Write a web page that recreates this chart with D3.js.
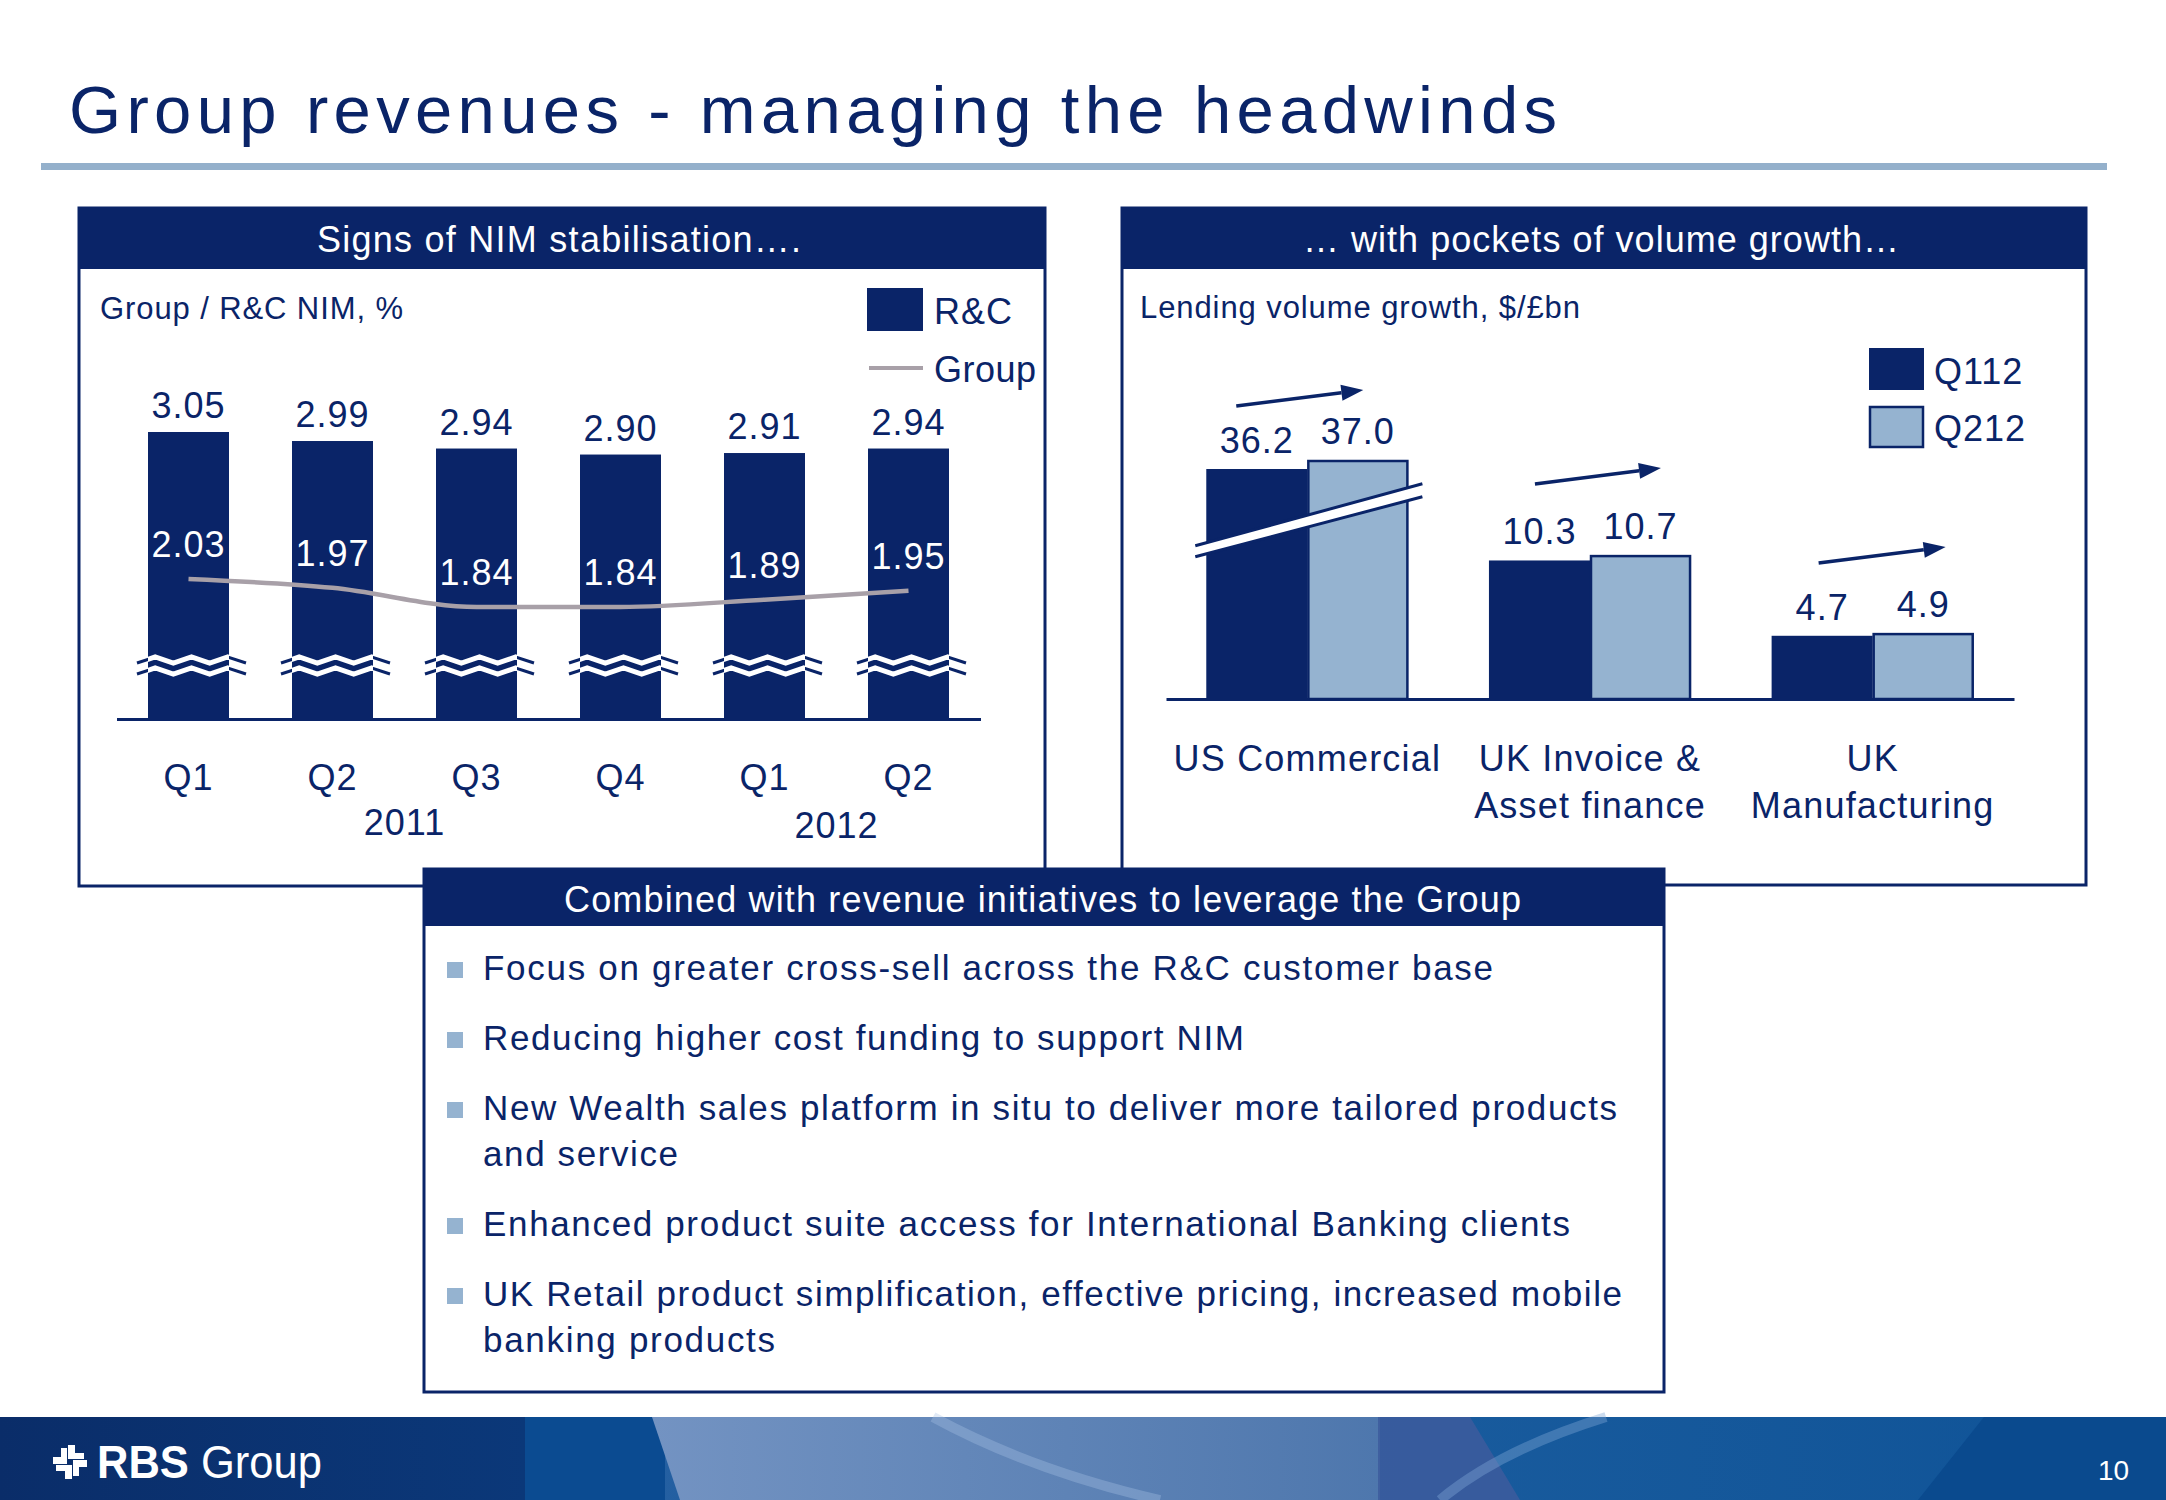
<!DOCTYPE html>
<html><head><meta charset="utf-8">
<script src="https://cdn.jsdelivr.net/npm/d3@7"></script>
<style>
html,body{margin:0;padding:0;background:#fff;}
svg{display:block;font-family:"Liberation Sans",Arial,Helvetica,sans-serif;}
</style></head><body>
<svg id="chart" width="2166" height="1500"></svg>
<script>
// ---------------- data ----------------
const quarterLabels = ["Q1","Q2","Q3","Q4","Q1","Q2"];
const quarterYears  = ["2011","2011","2011","2011","2012","2012"];
const rcNim    = [3.05, 2.99, 2.94, 2.90, 2.91, 2.94];
const groupNim = [2.03, 1.97, 1.84, 1.84, 1.89, 1.95];

const lendingCategories = ["US Commercial", "UK Invoice & Asset finance", "UK Manufacturing"];
const lendingCategoryLines = [["US Commercial"], ["UK Invoice &", "Asset finance"], ["UK", "Manufacturing"]];
const lendingSeries = ["Q112", "Q212"];
const lendingQ112 = [36.2, 10.3, 4.7];
const lendingQ212 = [37.0, 10.7, 4.9];

const bulletLines = [
  ["Focus on greater cross-sell across the R&C customer base"],
  ["Reducing higher cost funding to support NIM"],
  ["New Wealth sales platform in situ to deliver more tailored products", "and service"],
  ["Enhanced product suite access for International Banking clients"],
  ["UK Retail product simplification, effective pricing, increased mobile", "banking products"]
];

// ---------------- styles ----------------
const navy = "#0A2468", lightBlue = "#95B3D0", grey = "#A8A0A8";
const svg = d3.select("#chart");
const defs = svg.append("defs");

function txt(g, x, y, s, size, o = {}) {
  const t = g.append("text").attr("x", x).attr("y", y).text(s)
    .attr("font-size", size).attr("fill", o.fill || navy)
    .attr("text-anchor", o.anchor || "start");
  if (o.len) t.attr("textLength", o.len).attr("lengthAdjust", o.adjust || "spacing");
  if (o.ls != null) t.attr("letter-spacing", o.ls);
  if (o.weight) t.attr("font-weight", o.weight);
  return t;
}

// ---------------- title ----------------
txt(svg, 69, 133, "Group revenues - managing the headwinds", 67, {len: 1488});
svg.append("rect").attr("x", 41).attr("y", 163).attr("width", 2066).attr("height", 7).attr("fill", "#94B0CB");

// ---------------- panels ----------------
function panel(x0, y0, x1, y1, hBottom, title, tx, tw, tb) {
  const g = svg.append("g");
  g.append("rect").attr("x", x0).attr("y", y0).attr("width", x1 - x0).attr("height", y1 - y0)
    .attr("fill", "#fff").attr("stroke", navy).attr("stroke-width", 3);
  g.append("rect").attr("x", x0).attr("y", y0).attr("width", x1 - x0).attr("height", hBottom - y0)
    .attr("fill", navy);
  txt(g, tx, tb, title, 36, {fill: "#fff", len: tw});
  return g;
}
const leftP  = panel(79, 208, 1045, 886, 269, "Signs of NIM stabilisation\u2026.", 317, 484, 252);
const rightP = panel(1122, 208, 2086, 885, 269, "\u2026 with pockets of volume growth\u2026", 1303, 596, 252);

// ---------------- left chart: NIM ----------------
txt(leftP, 100, 319, "Group / R&C NIM, %", 31, {len: 303});

const xN = d3.scaleBand().domain(d3.range(rcNim.length)).range([116.5, 980.5])
  .paddingInner(0.4375).paddingOuter(0.21875);
const yN = d3.scaleLinear().domain([1.14, 3.05]).range([719, 432]);
const yG = d3.scaleLinear().domain([1.84, 2.03]).range([607, 579]);
const bwN = xN.bandwidth();

leftP.selectAll("rect.bar").data(rcNim).join("rect").attr("class", "bar")
  .attr("x", (d, i) => xN(i)).attr("y", d => yN(d))
  .attr("width", bwN).attr("height", d => yN.range()[0] - yN(d)).attr("fill", navy);

// axis break marks
const breakG = leftP.append("g");
rcNim.forEach((d, i) => {
  const x0 = xN(i) - 11, w = 109;
  const id = "clipN" + i;
  defs.append("clipPath").attr("id", id).append("rect")
    .attr("x", xN(i)).attr("y", 600).attr("width", bwN).attr("height", 100);
  [660, 671].forEach(by => {
    const pts = d3.range(7).map(k => [x0 + k * w / 6, by + (k % 2 === 0 ? 3 : -3)]);
    const line = d3.line()(pts);
    breakG.append("path").attr("d", line).attr("fill", "none").attr("stroke", navy).attr("stroke-width", 3);
    breakG.append("path").attr("d", line).attr("fill", "none").attr("stroke", "#fff")
      .attr("stroke-width", 5).attr("clip-path", `url(#${id})`);
  });
});

// R&C value labels
leftP.selectAll("text.rc").data(rcNim).join("text").attr("class", "rc")
  .attr("x", (d, i) => xN(i) + bwN / 2).attr("y", d => yN(d) - 14)
  .attr("text-anchor", "middle").attr("font-size", 36).attr("letter-spacing", 1)
  .attr("fill", navy).text(d => d.toFixed(2));

// Group line
const cx = i => xN(i) + bwN / 2;
leftP.append("path").datum(groupNim)
  .attr("d", d3.line().x((d, i) => cx(i)).y(d => yG(d)).curve(d3.curveMonotoneX))
  .attr("fill", "none").attr("stroke", grey).attr("stroke-width", 4.5);
leftP.selectAll("text.grp").data(groupNim).join("text").attr("class", "grp")
  .attr("x", (d, i) => cx(i)).attr("y", d => yG(d) - 22)
  .attr("text-anchor", "middle").attr("font-size", 36).attr("letter-spacing", 1)
  .attr("fill", "#fff").text(d => d.toFixed(2));

// x axis
const axN = leftP.append("g").attr("transform", "translate(0,719)")
  .call(d3.axisBottom(xN).tickSize(0).tickSizeOuter(0).tickPadding(45.4).tickFormat(i => quarterLabels[i]));
axN.select(".domain").attr("stroke", navy).attr("stroke-width", 3);
axN.selectAll("text").attr("font-size", 36).attr("fill", navy).attr("letter-spacing", 1)
  .attr("font-family", "'Liberation Sans',Arial,sans-serif");
// years
const years = d3.groups(d3.range(quarterYears.length), i => quarterYears[i]);
const yearBase = {"2011": 835, "2012": 838};
years.forEach(([yr, idx]) => {
  const c = d3.mean(idx, i => cx(i));
  txt(leftP, c, yearBase[yr], yr, 36, {anchor: "middle", ls: 1});
});

// legend
leftP.append("rect").attr("x", 867).attr("y", 288).attr("width", 56).attr("height", 43).attr("fill", navy);
txt(leftP, 934, 324, "R&C", 36, {ls: 1});
leftP.append("line").attr("x1", 869).attr("x2", 923).attr("y1", 368).attr("y2", 368)
  .attr("stroke", grey).attr("stroke-width", 4);
txt(leftP, 934, 382, "Group", 36, {ls: 0.5});

// ---------------- right chart: lending ----------------
txt(rightP, 1140, 318, "Lending volume growth, $/\u00a3bn", 31, {len: 440});

const xL = d3.scaleBand().domain(d3.range(lendingCategories.length)).range([1166, 2014])
  .paddingInner(0.285).paddingOuter(0.1425);
const xS = d3.scaleBand().domain(lendingSeries).range([0, xL.bandwidth()]);
const yL = d3.scaleLinear().domain([0, 11, 35, 40]).range([699, 551.05, 482.5, 426.25]);
const seriesVals = {Q112: lendingQ112, Q212: lendingQ212};
const seriesFill = {Q112: navy, Q212: lightBlue};

const barData = [];
lendingCategories.forEach((c, i) => lendingSeries.forEach(s => barData.push({i, s, v: seriesVals[s][i]})));

rightP.selectAll("rect.lb").data(barData).join("rect").attr("class", "lb")
  .attr("x", d => xL(d.i) + xS(d.s) + (d.s === "Q212" ? 1 : 0))
  .attr("y", d => yL(d.v) + (d.s === "Q212" ? 1 : 0))
  .attr("width", d => xS.bandwidth() - (d.s === "Q212" ? 2 : 0))
  .attr("height", d => yL(0) - yL(d.v) - (d.s === "Q212" ? 1 : 0))
  .attr("fill", d => seriesFill[d.s])
  .attr("stroke", d => d.s === "Q212" ? navy : "none").attr("stroke-width", 2.5);

// break stripe on the US Commercial bars
{
  const bs = xL(0), be = xL(0) + xL.bandwidth();
  const xa = bs - 11, xb = be + 14;
  const ym = yL(23);
  const ya = ym + 29, yb = ym - 33;
  const gap = 11;
  rightP.append("path")
    .attr("d", `M${xa},${ya}L${xb},${yb}L${xb},${yb + gap + 2}L${xa},${ya + gap}Z`)
    .attr("fill", "#fff");
  rightP.append("line").attr("x1", xa).attr("y1", ya).attr("x2", xb).attr("y2", yb)
    .attr("stroke", navy).attr("stroke-width", 3);
  rightP.append("line").attr("x1", xa).attr("y1", ya + gap).attr("x2", xb).attr("y2", yb + gap + 2)
    .attr("stroke", navy).attr("stroke-width", 3);
}

// value labels
rightP.selectAll("text.lv").data(barData).join("text").attr("class", "lv")
  .attr("x", d => xL(d.i) + xS(d.s) + xS.bandwidth() / 2)
  .attr("y", d => yL(d.v) - 16)
  .attr("text-anchor", "middle").attr("font-size", 36).attr("letter-spacing", 1)
  .attr("fill", navy).text(d => d.v.toFixed(1));

// growth arrows (annotation layout)
const arrowLayout = [{dx0: 30, dx1: 157, dy: -54}, {dx0: 46, dx1: 172, dy: -71}, {dx0: 47, dx1: 174, dy: -70}];
arrowLayout.forEach((a, i) => {
  const x0 = xL(i) + a.dx0, x1 = xL(i) + a.dx1;
  const y0 = yL(lendingQ212[i]) + a.dy, y1 = y0 - 16;
  const ang = Math.atan2(y1 - y0, x1 - x0);
  const hl = 22, hw = 8;
  const bx = x1 - hl * Math.cos(ang), by = y1 - hl * Math.sin(ang);
  rightP.append("line").attr("x1", x0).attr("y1", y0).attr("x2", bx).attr("y2", by)
    .attr("stroke", navy).attr("stroke-width", 3.5);
  const px = -Math.sin(ang) * hw, py = Math.cos(ang) * hw;
  rightP.append("path").attr("d", `M${x1},${y1}L${bx + px},${by + py}L${bx - px},${by - py}Z`).attr("fill", navy);
});

// axis
const axL = rightP.append("g").attr("transform", "translate(0,699)")
  .call(d3.axisBottom(xL).tickSize(0).tickSizeOuter(0).tickPadding(46.4).tickFormat(() => ""));
axL.select(".domain").attr("stroke", navy).attr("stroke-width", 3);
axL.selectAll(".tick text").each(function(i) {
  const t = d3.select(this).attr("font-size", 36).attr("fill", navy).attr("letter-spacing", 1.2)
    .attr("font-family", "'Liberation Sans',Arial,sans-serif");
  lendingCategoryLines[i].forEach((ln, k) => {
    t.append("tspan").attr("x", 0).attr("dy", k === 0 ? "0.71em" : 47).text(ln);
  });
  t.attr("dy", null);
});

// legend
rightP.append("rect").attr("x", 1869).attr("y", 348).attr("width", 55).attr("height", 42).attr("fill", navy);
rightP.append("rect").attr("x", 1870).attr("y", 407).attr("width", 53).attr("height", 40)
  .attr("fill", lightBlue).attr("stroke", navy).attr("stroke-width", 2.5);
txt(rightP, 1934, 384, lendingSeries[0], 36, {ls: 1});
txt(rightP, 1934, 441, lendingSeries[1], 36, {ls: 1});

// ---------------- bottom box ----------------
const botP = panel(424, 869, 1664, 1392, 926, "Combined with revenue initiatives to leverage the Group", 564, 957, 912);
const bulletWidths = [[1010], [761], [1134, 195], [1087], [1139, 292]];
let yb = 980;
bulletLines.forEach((lines, bi) => {
  botP.append("rect").attr("x", 447).attr("y", yb - 18).attr("width", 16).attr("height", 16).attr("fill", lightBlue);
  lines.forEach((ln, k) => {
    txt(botP, 483, yb, ln, 35, {len: bulletWidths[bi][k]});
    if (k < lines.length - 1) yb += 46;
  });
  yb += 70;
});

// ---------------- footer ----------------
const fg = svg.append("g");
const g1 = defs.append("linearGradient").attr("id", "fL");
g1.append("stop").attr("offset", 0).attr("stop-color", "#0A2D69");
g1.append("stop").attr("offset", 1).attr("stop-color", "#0B3879");
const g2 = defs.append("linearGradient").attr("id", "fM");
g2.append("stop").attr("offset", 0).attr("stop-color", "#7393C2");
g2.append("stop").attr("offset", 1).attr("stop-color", "#4E77AD");
const g3 = defs.append("linearGradient").attr("id", "fR");
g3.append("stop").attr("offset", 0).attr("stop-color", "#2E63A5");
g3.append("stop").attr("offset", 0.6).attr("stop-color", "#1A5C9E");
g3.append("stop").attr("offset", 1).attr("stop-color", "#0F5397");
fg.append("rect").attr("x", 0).attr("y", 1417).attr("width", 2166).attr("height", 83).attr("fill", "url(#fR)");
fg.append("rect").attr("x", 0).attr("y", 1417).attr("width", 525).attr("height", 83).attr("fill", "url(#fL)");
fg.append("rect").attr("x", 525).attr("y", 1417).attr("width", 140).attr("height", 83).attr("fill", "#0B4B91");
fg.append("path").attr("d", "M652,1417L1380,1417L1380,1500L680,1500Z").attr("fill", "url(#fM)");
fg.append("path").attr("d", "M1378,1417L1470,1417L1520,1500L1378,1500Z").attr("fill", "#3D5C9E").attr("opacity", 0.85);
fg.append("path").attr("d", "M1984,1417L2166,1417L2166,1500L1918,1500Z").attr("fill", "#0A4A8E");
fg.append("path").attr("d", "M933,1417Q1030,1470 1160,1500").attr("fill", "none")
  .attr("stroke", "#A9C4E6").attr("stroke-opacity", 0.35).attr("stroke-width", 10);
fg.append("path").attr("d", "M1606,1417Q1500,1450 1440,1500").attr("fill", "none")
  .attr("stroke", "#7FA8D8").attr("stroke-opacity", 0.4).attr("stroke-width", 10);
// logo symbol
const lg = fg.append("g").attr("transform", "translate(70,1462)");
[0, 90, 180, 270].forEach(r => {
  lg.append("path").attr("d", "M-2,-3L-2,-17L5,-17L5,-9L14,-9L14,-3Z")
    .attr("fill", "#fff").attr("transform", `rotate(${r})`);
});
const lt = fg.append("text").attr("x", 97).attr("y", 1478).attr("font-size", 46).attr("fill", "#fff")
  .attr("font-family", "'Liberation Sans Narrow','Liberation Sans',Arial,sans-serif")
  .attr("textLength", 225).attr("lengthAdjust", "spacingAndGlyphs");
lt.append("tspan").attr("font-weight", "bold").text("RBS");
lt.append("tspan").text(" Group");
txt(fg, 2098, 1480, "10", 28, {fill: "#fff"});
</script>
</body></html>
